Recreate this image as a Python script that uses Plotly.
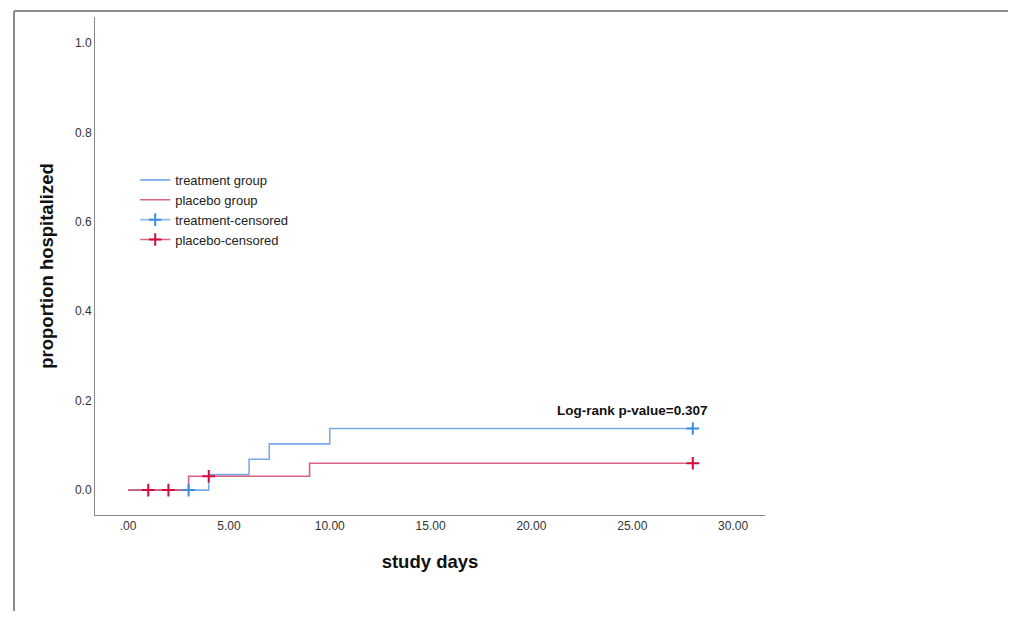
import plotly.graph_objects as go

# Data
treat_t = [0, 4, 6, 7, 10, 28]
treat_p = [0.0, 0.0345, 0.069, 0.1034, 0.1379, 0.1379]
plac_t = [0, 3, 9, 28]
plac_p = [0.0, 0.031, 0.060, 0.060]
treat_cens_t = [3, 28]
treat_cens_p = [0.0, 0.1379]
plac_cens_t = [1, 2, 4, 28]
plac_cens_p = [0.0, 0.0, 0.031, 0.060]
x_ticks = [0, 5, 10, 15, 20, 25, 30]
x_labels = [".00", "5.00", "10.00", "15.00", "20.00", "25.00", "30.00"]
y_ticks = [0.0, 0.2, 0.4, 0.6, 0.8, 1.0]
y_labels = ["0.0", "0.2", "0.4", "0.6", "0.8", "1.0"]
pvalue_text = "Log-rank p-value=0.307"

BLUE_LINE = "rgba(100,155,228,0.85)"
RED_LINE = "rgba(214,70,110,0.85)"
BLUE_MARK = "#3b8ee4"
RED_MARK = "#d40a3c"
FONT = "Liberation Sans, Arial, sans-serif"


def separated(vals):
    out = []
    for v in vals:
        out += [v, None]
    return out[:-1]


fig = go.Figure()
fig.add_trace(go.Scatter(x=treat_t, y=treat_p, mode="lines", line_shape="hv",
                         line=dict(color=BLUE_LINE, width=1.6), name="treatment group"))
fig.add_trace(go.Scatter(x=plac_t, y=plac_p, mode="lines", line_shape="hv",
                         line=dict(color=RED_LINE, width=1.6), name="placebo group"))
fig.add_trace(go.Scatter(x=separated(treat_cens_t), y=separated(treat_cens_p), mode="lines+markers",
                         line=dict(color="rgba(130,180,240,0.9)", width=1.6),
                         marker=dict(symbol="cross-thin", size=9,
                                     line=dict(color=BLUE_MARK, width=2)),
                         name="treatment-censored"))
fig.add_trace(go.Scatter(x=separated(plac_cens_t), y=separated(plac_cens_p), mode="lines+markers",
                         line=dict(color="rgba(220,80,115,0.9)", width=1.6),
                         marker=dict(symbol="cross-thin", size=9,
                                     line=dict(color=RED_MARK, width=2)),
                         name="placebo-censored"))

fig.add_annotation(x=25, y=0.177, text="<b>" + pvalue_text + "</b>", showarrow=False,
                   font=dict(family=FONT, size=13.5, color="#111"))

# figure sits at page offset (8, 8) because of the body margin
W, H = 1000, 603
ml, mr, mt, mb = 87, 243, 9, 96
pw, ph = W - ml - mr, H - mt - mb


def px(X):
    return (X - ml) / pw


def py(Y):
    return (mt + ph - Y) / ph


frame = dict(color="#8a8a8a", width=2)
fig.add_shape(type="line", xref="paper", yref="paper", x0=px(6), y0=py(3), x1=px(W + 10), y1=py(3), line=frame)
fig.add_shape(type="line", xref="paper", yref="paper", x0=px(6), y0=py(3), x1=px(6), y1=py(H + 10), line=frame)

fig.update_layout(
    width=W, height=H,
    margin=dict(l=ml, r=mr, t=mt, b=mb),
    paper_bgcolor="white", plot_bgcolor="white",
    font=dict(family=FONT, size=12, color="#333"),
    showlegend=True,
    legend=dict(x=0.060, y=0.703, xanchor="left", yanchor="top",
                bgcolor="rgba(0,0,0,0)", font=dict(family=FONT, size=13, color="#222"),
                itemwidth=30, tracegroupgap=0),
    xaxis=dict(range=[-1.64, 31.58], tickvals=x_ticks, ticktext=x_labels,
               showgrid=False, zeroline=False, showline=True, linecolor="#888", linewidth=1,
               ticks="", tickfont=dict(size=12, color="#333"),
               title=dict(text="<b>study days</b>", font=dict(size=18.5, color="#111"), standoff=22)),
    yaxis=dict(range=[-0.0557, 1.058], tickvals=y_ticks, ticktext=y_labels,
               showgrid=False, zeroline=False, showline=True, linecolor="#888", linewidth=1,
               ticks="", tickfont=dict(size=12, color="#333"),
               title=dict(text="<b>proportion hospitalized</b>", font=dict(size=18.5, color="#111"), standoff=16)),
)

fig.write_html("out.html")
